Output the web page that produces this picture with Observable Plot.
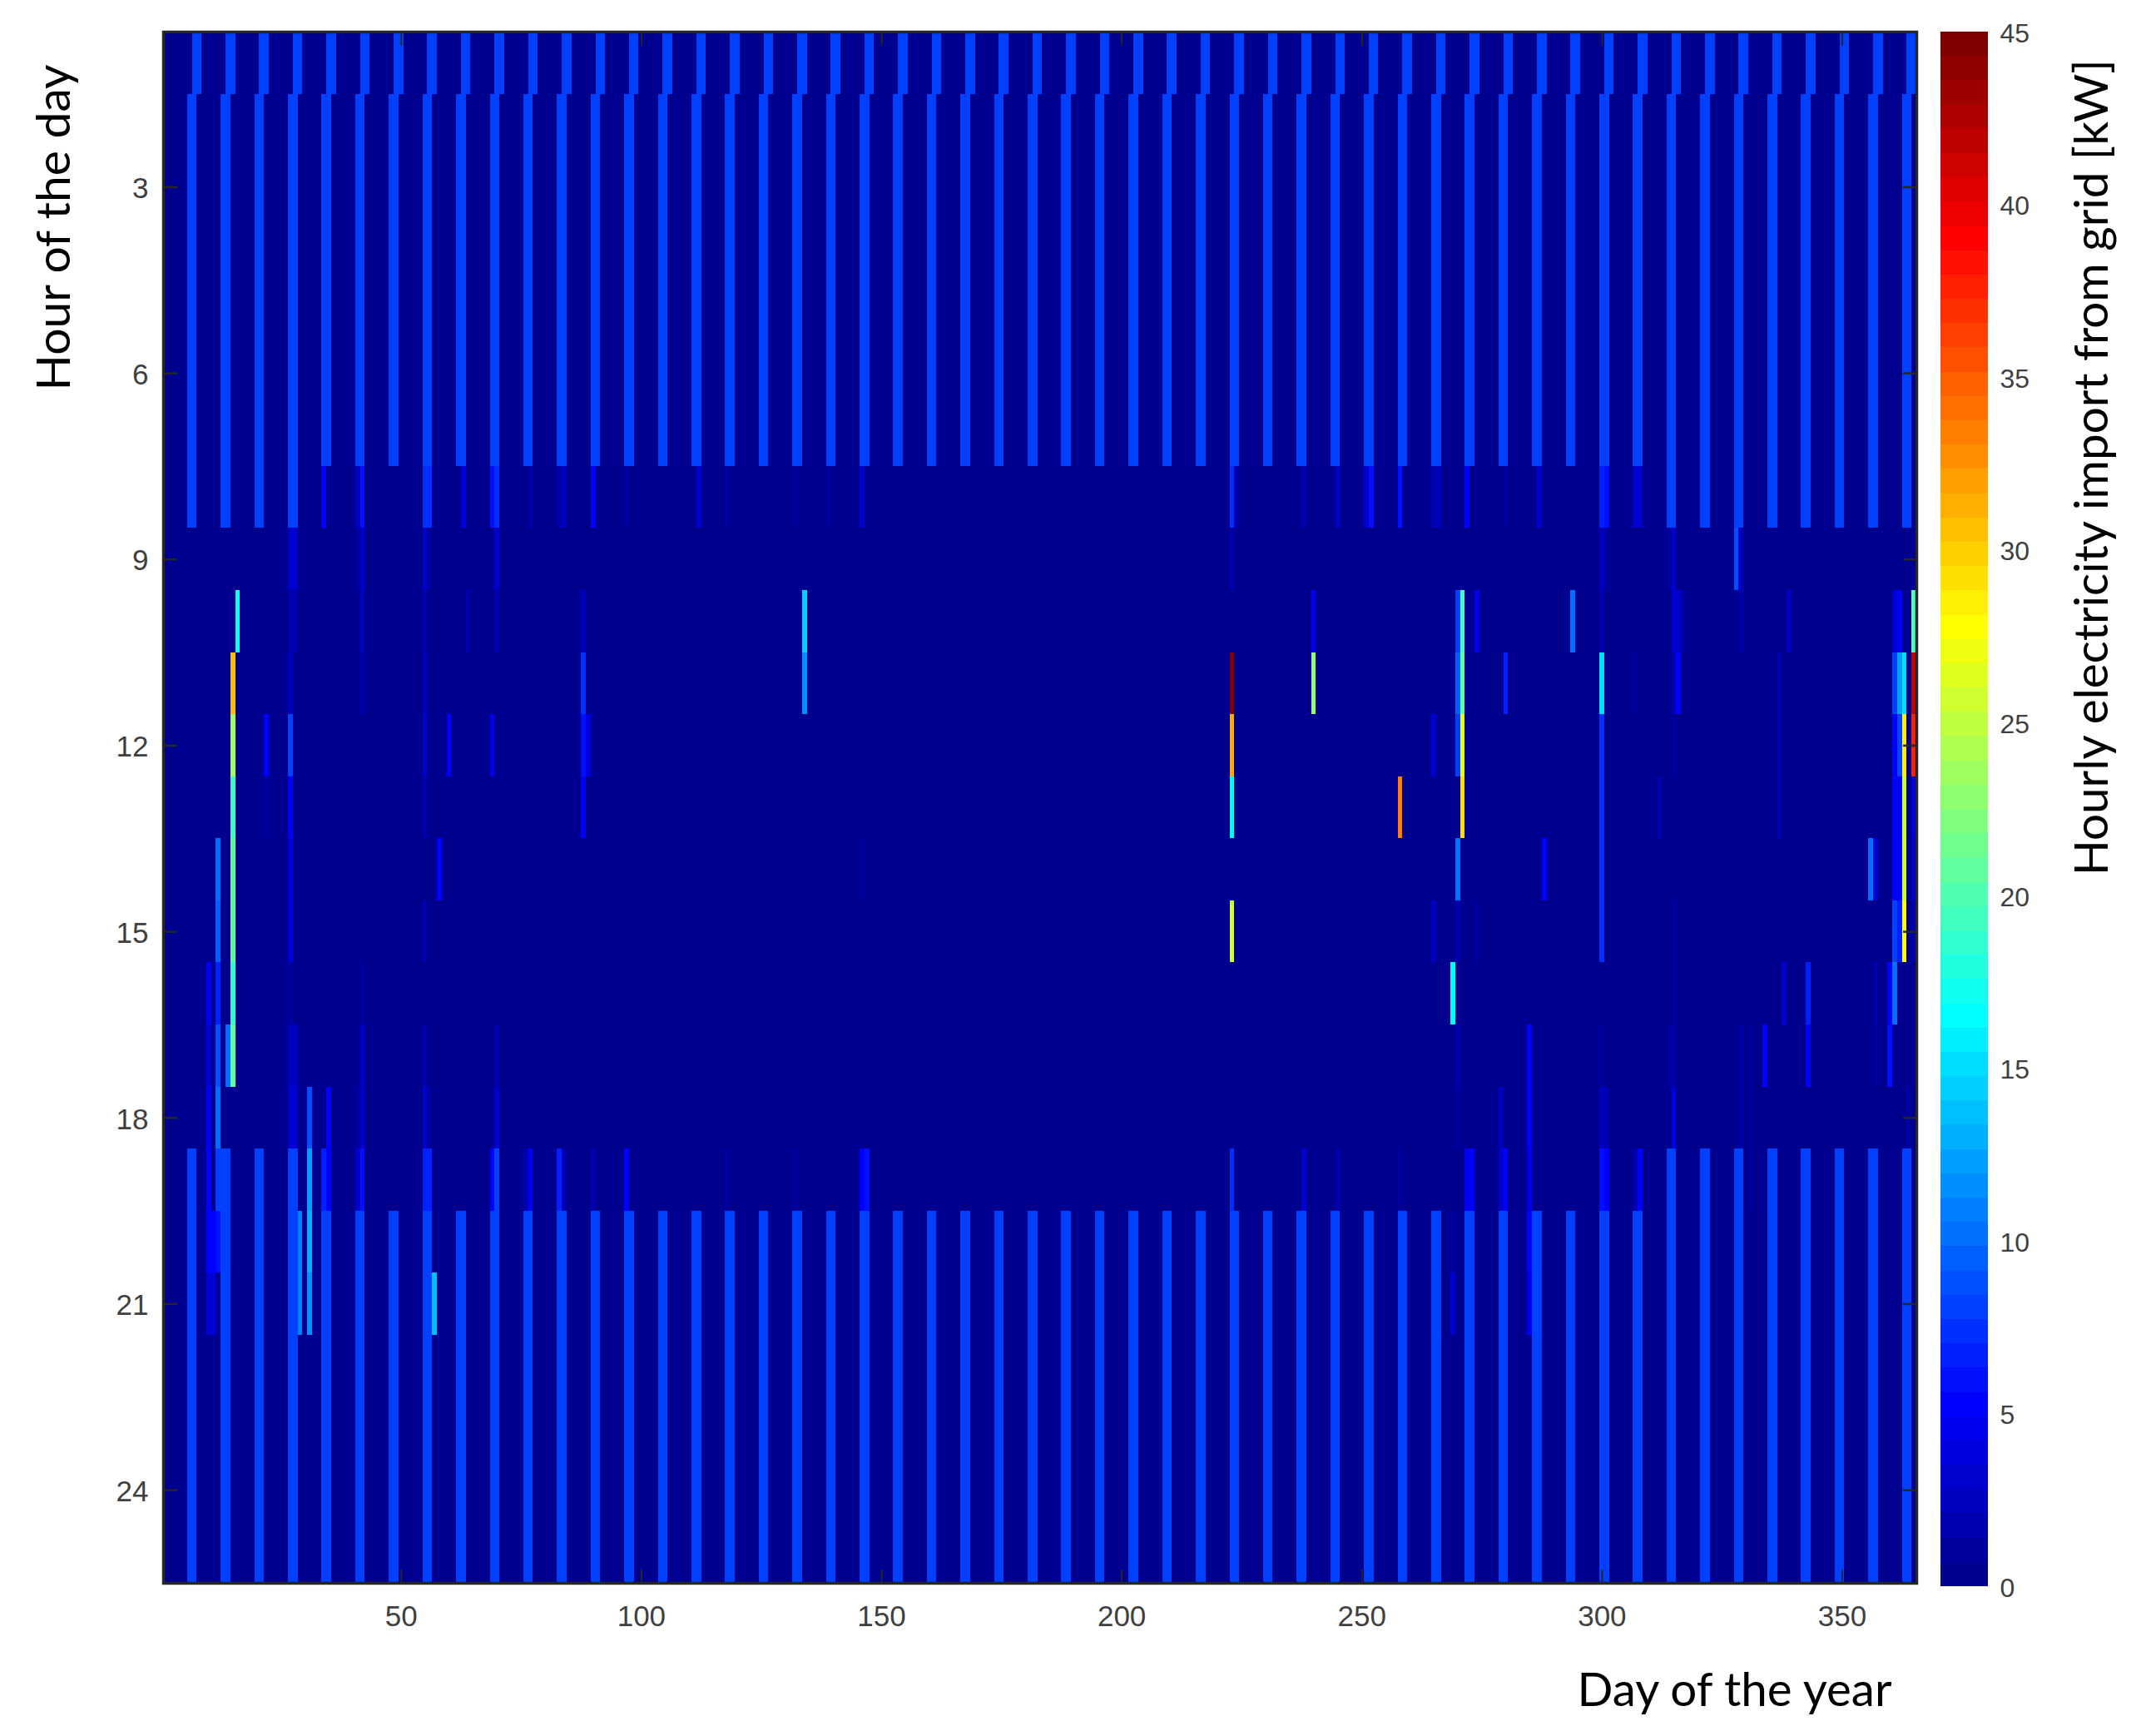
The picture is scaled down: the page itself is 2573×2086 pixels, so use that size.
<!DOCTYPE html>
<html>
<head>
<meta charset="utf-8">
<script src="https://cdn.jsdelivr.net/npm/d3@7"></script>
<script src="https://cdn.jsdelivr.net/npm/@observablehq/plot@0.6"></script>
<style>
  html, body { margin: 0; padding: 0; background: #fff; }
  #chart { position: relative; width: 2573px; height: 2086px; overflow: hidden; }
  #chart svg { position: absolute; top: 0; overflow: visible; background: transparent; }
</style>
</head>
<body>
<div id="chart"></div>
<script>
// ---- axes ----
const dayCount = 365;
const hourCount = 25;
const dayTicks = [50, 100, 150, 200, 250, 300, 350];
const hourTicks = [3, 6, 9, 12, 15, 18, 21, 24];
const colorTicks = [0, 5, 10, 15, 20, 25, 30, 35, 40, 45];
const xTitle = "Day of the year";
const yTitle = "Hour of the day";
const colorTitle = "Hourly electricity import from grid [kW]";

// ---- levels (kW) ----
const idleLoad = 0.3;
const stripLoad = 8;

// two-day strips, first day of each (hours 2-7 and 20-25)
const stripDays = [6,13,20,27,34,41,48,55,62,69,76,83,90,97,104,111,118,125,132,139,146,153,160,167,174,181,188,195,202,209,216,223,230,237,244,251,258,265,272,279,286,293,300,307,314,321,328,335,342,349,356,363];
// the same strips, one day later, in hour 1
const firstHourDays = [7,14,21,28,35,42,49,56,63,70,77,84,91,98,105,112,119,126,133,140,147,154,161,168,175,182,189,196,203,210,217,224,231,238,245,252,259,266,273,280,287,294,301,308,315,322,329,336,343,350,357,364];
// strips that also fill hours 8 and 19
const shoulderDays = [6,13,20,27,314,321,328,335,342,349,356,363];
const stripHours = [2,3,4,5,6,7,20,21,22,23,24,25];

// individual [day, kW] readings per hour
const hour8 = [[34,5.2],[41,2.8],[42,6],[55,7.5],[56,7.5],[63,4],[69,6],[70,7.5],[77,1.5],[83,1.5],[84,2.8],[90,5],[97,1],[112,3],[118,1],[132,1],[139,1.2],[146,3],[223,7.5],[224,2],[238,2],[245,3],[251,3],[252,5.8],[258,6],[265,2],[266,2.5],[272,5.5],[280,1],[287,3],[300,7],[301,5.8],[307,3],[308,3]];
const hour9 = [[27,3.5],[28,3.5],[41,1],[42,3.5],[55,3],[56,1],[70,3],[223,2],[300,2.5],[301,1.2],[314,1],[315,3.5],[328,9],[329,2.5]];
const hour10 = [[16,17.5],[27,2],[28,2],[42,2.5],[55,2],[64,2],[70,2],[88,2.5],[134,14.2],[240,4.8],[270,8],[271,19],[274,4.8],[294,10],[300,1.5],[315,3],[316,3],[317,1.2],[329,1.5],[339,2.5],[361,3],[362,5.3],[365,20]];
const hour11 = [[15,30.5],[27,2.5],[42,1.5],[55,2.5],[88,7.5],[134,11.7],[223,44.8],[240,22.5],[270,9.5],[271,21],[280,7],[300,15.4],[307,1],[315,1.5],[316,5.3],[337,1.5],[361,8],[362,12],[363,15.4],[365,42]];
const hour12 = [[15,23.5],[22,5],[27,8],[55,3],[60,5.2],[69,4.5],[88,6],[89,4],[223,31.5],[265,3],[270,8],[271,27],[300,7.5],[315,1],[337,1.5],[361,5.5],[362,8],[363,28.5],[365,37.5]];
const hour13 = [[15,19.5],[22,0.9],[27,5],[55,1.5],[88,5],[223,16.5],[258,33.5],[271,29],[300,7.5],[312,2],[337,1.8],[361,5.3],[362,5.3],[363,25.5],[365,4]];
const hour14 = [[12,10],[15,21],[27,4],[58,5],[146,1],[270,10],[288,5],[300,7.5],[356,10],[357,3],[361,5.5],[362,5.5],[363,25.5],[365,3]];
const hour15 = [[12,9.5],[15,20.5],[27,4],[55,2],[223,26],[265,2.5],[270,1.8],[274,1],[300,7.5],[315,1],[361,8],[362,7],[363,28],[365,1.5]];
const hour16 = [[10,4.8],[12,7],[15,18.5],[27,0.9],[42,0.9],[269,16.5],[315,1.2],[338,3],[343,7],[357,2],[360,5.5],[361,10]];
const hour17 = [[10,3],[12,9],[14,10],[15,21],[27,2.5],[28,2.5],[42,3],[55,2],[70,2],[270,2],[285,5.3],[300,1],[314,1],[315,2],[329,1.5],[331,0.9],[334,5.5],[343,5.3],[357,1],[360,6]];
const hour18 = [[10,4.5],[12,10],[27,3.5],[28,3.5],[31,9],[35,5.5],[41,1],[42,3.5],[55,3],[56,1.3],[70,3.5],[270,0.8],[279,2.2],[285,5.3],[300,2.5],[301,1.5],[315,4],[329,1.8],[331,0.8],[364,1.3]];
const hour19 = [[10,5],[12,8],[31,12.5],[34,7],[35,5.5],[41,3],[42,6],[55,6.5],[56,6.5],[69,5.5],[70,8],[76,2],[77,5.5],[83,6.5],[84,2],[90,2],[97,5.5],[118,1],[132,1],[146,5.5],[147,5.8],[223,7.5],[238,3],[245,1.5],[258,1.2],[272,4.5],[273,5.5],[279,3],[280,5],[285,4.5],[300,6],[301,5.5],[307,1.5],[308,5],[331,0.8]];
const hour20 = [[10,5.3],[11,5.3],[12,6.3],[29,11],[31,13],[269,0.9],[285,5]];
const hour21 = [[10,3],[11,4],[29,11],[31,11.5],[57,14],[269,3],[285,4.5]];
const hourReadings = {8:hour8,9:hour9,10:hour10,11:hour11,12:hour12,13:hour13,14:hour14,15:hour15,16:hour16,17:hour17,18:hour18,19:hour19,20:hour20,21:hour21};

// ---- build the table the marks read ----
const load = new Map();
const key = (day, hour) => day * 100 + hour;
const setStrip = (first, hour) => { load.set(key(first, hour), stripLoad); load.set(key(first + 1, hour), stripLoad); };
firstHourDays.forEach(d => setStrip(d, 1));
stripHours.forEach(h => stripDays.forEach(d => setStrip(d, h)));
[8, 19].forEach(h => shoulderDays.forEach(d => setStrip(d, h)));
Object.entries(hourReadings).forEach(([h, list]) => list.forEach(([d, v]) => load.set(key(d, +h), v)));

const cells = [];
for (let day = 1; day <= dayCount; day++) {
  for (let hour = 1; hour <= hourCount; hour++) {
    cells.push({day, hour, kW: load.get(key(day, hour)) ?? idleLoad});
  }
}

// ---- MATLAB jet(64), clim 0..45 ----
const levelCount = 64;
const colorMax = 45;
function jetChannel(k, shift) {
  const i = k - shift;            // position in the 47-step ramp
  if (i < 1 || i > 47) return 0;
  if (i <= 16) return i / 16;
  if (i <= 31) return 1;
  return (48 - i) / 16;
}
const jet = d3.range(1, levelCount + 1).map(k => {
  const to255 = v => Math.round(v * 255);
  return d3.rgb(to255(jetChannel(k, 24)), to255(jetChannel(k, 8)), to255(jetChannel(k, -8))).formatHex();
});
const thresholds = d3.range(1, levelCount).map(i => i * colorMax / levelCount);
const colorScale = {type: "threshold", domain: thresholds, range: jet};

const levels = d3.range(levelCount).map(i => ({
  lo: i * colorMax / levelCount,
  hi: (i + 1) * colorMax / levelCount
}));

const ink = "#262626";
const tickInk = "#404040";
const titleFont = "Lato, 'Open Sans', sans-serif";
const tickFont = "'Liberation Sans', Arial, sans-serif";

const main = Plot.plot({
  width: 2573,
  height: 2086,
  marginLeft: 196,
  marginRight: 270,
  marginTop: 38,
  marginBottom: 184,
  style: {fontFamily: tickFont, fontSize: "35px", color: tickInk, background: "transparent"},
  x: {domain: [0.5, dayCount + 0.5], label: null},
  y: {domain: [0.5, hourCount + 0.5], reverse: true, label: null},
  color: colorScale,
  marks: [
    Plot.rect(cells, {
      x1: d => d.day - 0.5,
      x2: d => d.day + 0.5,
      y1: d => d.hour - 0.5,
      y2: d => d.hour + 0.5,
      fill: "kW",
      shapeRendering: "crispEdges"
    }),
    Plot.axisX(dayTicks, {anchor: "bottom", tickSize: -16, tickPadding: 43, tickFormat: "d", stroke: ink, strokeWidth: 2, fill: tickInk, label: null}),
    Plot.axisX(dayTicks, {anchor: "top", tickSize: -16, stroke: ink, strokeWidth: 2, tickFormat: () => "", label: null}),
    Plot.axisY(hourTicks, {anchor: "left", tickSize: -17, tickFormat: () => "", stroke: ink, strokeWidth: 2.5, label: null}),
    Plot.axisY(hourTicks, {anchor: "left", tickSize: 0, tickPadding: 18, tickFormat: "d", dy: 2, fill: tickInk, label: null}),
    Plot.axisY(hourTicks, {anchor: "right", tickSize: -17, stroke: ink, strokeWidth: 2.5, tickFormat: () => "", label: null}),
    Plot.frame({stroke: ink, strokeWidth: 3.5}),
    Plot.text([xTitle], {
      frameAnchor: "bottom-right", textAnchor: "end", lineAnchor: "middle",
      dx: -30, dy: 129, fontFamily: titleFont, fontSize: 56.5, fill: "#000"
    }),
    Plot.text([yTitle], {
      frameAnchor: "top-left", rotate: -90, textAnchor: "end", lineAnchor: "middle",
      dx: -131, dy: 39, fontFamily: titleFont, fontSize: 57, fill: "#000"
    })
  ]
});
main.style.left = "0px";

const bar = Plot.plot({
  width: 263,
  height: 2086,
  marginLeft: 22,
  marginRight: 184,
  marginTop: 38,
  marginBottom: 180,
  style: {fontFamily: tickFont, fontSize: "32px", color: tickInk, background: "transparent"},
  x: {domain: [0, 1], axis: null},
  y: {domain: [0, colorMax], label: null},
  color: colorScale,
  marks: [
    Plot.rect(levels, {
      x1: () => 0,
      x2: () => 1,
      y1: "lo",
      y2: "hi",
      fill: d => (d.lo + d.hi) / 2,
      shapeRendering: "crispEdges"
    }),
    Plot.axisY(colorTicks, {anchor: "right", tickSize: 0, tickPadding: 14, dy: 2, fill: tickInk, label: null}),
    Plot.text([colorTitle], {
      frameAnchor: "top-right", rotate: -90, textAnchor: "end", lineAnchor: "middle",
      dx: 125, dy: 33, fontFamily: titleFont, fontSize: 56.5, fill: "#000"
    })
  ]
});
bar.style.left = "2310px";

const host = document.getElementById("chart");
host.append(main, bar);
</script>
</body>
</html>
